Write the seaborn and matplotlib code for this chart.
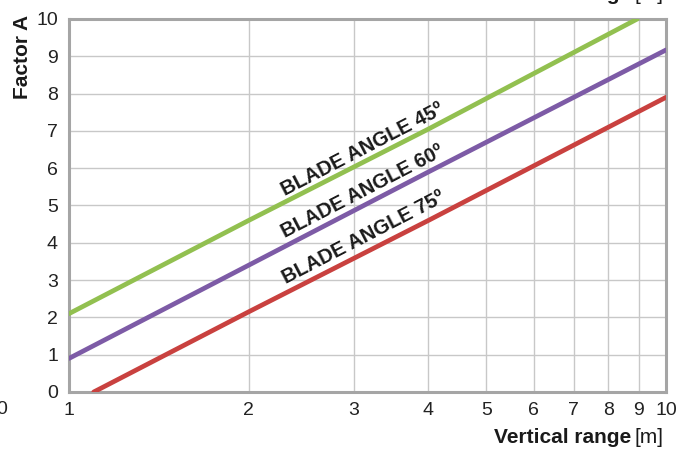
import numpy as np
import pandas as pd
import matplotlib.pyplot as plt
import seaborn as sns

# valores (eje x logaritmico)
x_45 = [1, 2, 4, 8.95]
y_45 = [2.1, 4.6, 7.05, 10.0]
x_60 = [1, 2, 4, 10]
y_60 = [0.9, 3.4, 5.9, 9.17]
x_75 = [1.1, 2, 4, 10]
y_75 = [0.0, 2.15, 4.6, 7.9]
etiquetas = ['BLADE ANGLE 45º', 'BLADE ANGLE 60º', 'BLADE ANGLE 75º']
colores = ['#92c050', '#7d5ba6', '#c9413f']
x_ticks = [1, 2, 3, 4, 5, 6, 7, 8, 9, 10]
y_ticks = list(range(0, 11))

sns.set_style("whitegrid")
plt.rcParams['font.family'] = ['Liberation Sans', 'DejaVu Sans']

df = pd.concat([
    pd.DataFrame({'x': x_45, 'y': y_45, 'serie': etiquetas[0]}),
    pd.DataFrame({'x': x_60, 'y': y_60, 'serie': etiquetas[1]}),
    pd.DataFrame({'x': x_75, 'y': y_75, 'serie': etiquetas[2]}),
])

fig = plt.figure(figsize=(6.93, 4.51), dpi=100)
ax = fig.add_axes([69 / 693, 1 - 392 / 451, 597 / 693, 373 / 451])

sns.lineplot(data=df, x='x', y='y', hue='serie', palette=colores, linewidth=3.4,
             legend=False, ax=ax, sort=False, zorder=3)

ax.set_xscale('log')
ax.set_xlim(1, 10)
ax.set_ylim(0, 10)
ax.set_xticks(x_ticks)
ax.set_xticklabels([str(t) for t in x_ticks])
ax.xaxis.set_minor_locator(plt.NullLocator())
ax.set_yticks(y_ticks)
ax.set_yticklabels([str(t) for t in y_ticks])
ax.tick_params(axis='both', length=0, labelsize=14, colors='#222222')
ax.tick_params(axis='x', pad=7)
ax.tick_params(axis='y', pad=8)
ax.grid(True, color='#c8c8c8', linewidth=1)
ax.set_xlabel('')
ax.set_ylabel('')
for s in ax.spines.values():
    s.set_visible(True)
    s.set_color('#a5a5a5')
    s.set_linewidth(2.2)

# textos de las curvas
pos_texto = [(3.1, 6.49), (3.1, 5.36), (3.12, 4.13)]
for (tx, ty), et in zip(pos_texto, etiquetas):
    ax.text(tx, ty, et, rotation=27.4, ha='center', va='center',
            fontsize=14.5, fontweight='bold', color='#1a1a1a', rotation_mode='anchor')

# etiquetas de ejes
fig.text(22 / 693, 1 - 57 / 451, 'Factor A', rotation=90, ha='center', va='center',
         fontsize=15, fontweight='bold', color='#1a1a1a')
for yb in [443, 0]:
    fig.text(631 / 693, 1 - yb / 451, 'Vertical range', ha='right', va='baseline',
             fontsize=15, fontweight='bold', color='#1a1a1a')
    fig.text(635 / 693, 1 - yb / 451, '[m]', ha='left', va='baseline',
             fontsize=15, color='#1a1a1a')
fig.text(2 / 693, 1 - 410 / 451, '0', ha='center', va='center', fontsize=14, color='#222222')

fig.savefig('out.png', dpi=100)
